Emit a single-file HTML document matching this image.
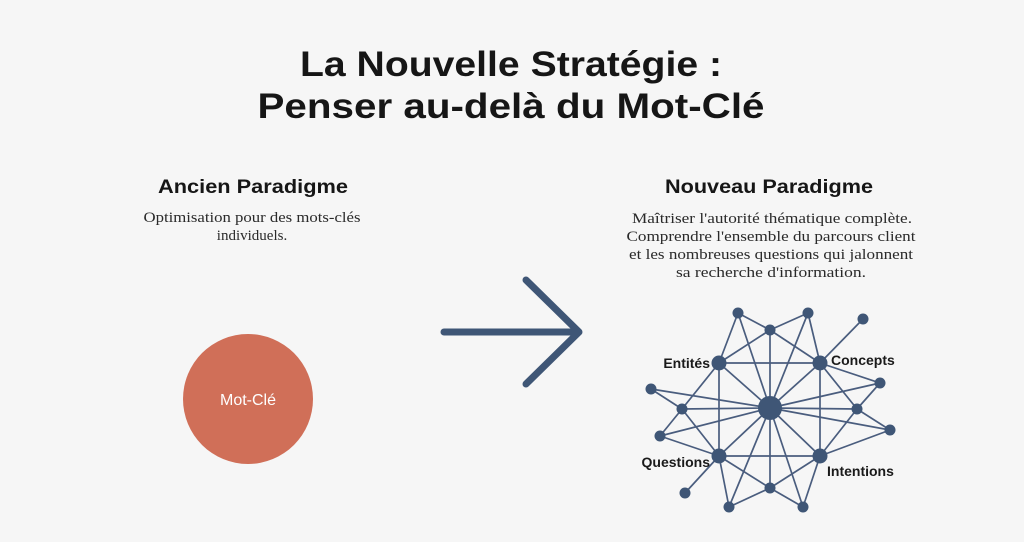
<!DOCTYPE html>
<html><head><meta charset="utf-8"><style>
html,body{margin:0;padding:0;background:#f6f6f6;}
svg{display:block}
</style></head><body>
<svg width="1024" height="542" viewBox="0 0 1024 542" xmlns="http://www.w3.org/2000/svg">
<rect width="1024" height="542" fill="#f6f6f6"/>
<g font-family="Liberation Sans, sans-serif" font-weight="bold" fill="#161616" text-anchor="middle">
<text x="511" y="76" font-size="35" textLength="422" lengthAdjust="spacingAndGlyphs">La Nouvelle Stratégie :</text>
<text x="511" y="118" font-size="35" textLength="507" lengthAdjust="spacingAndGlyphs">Penser au-delà du Mot-Clé</text>
<text x="253" y="193" font-size="19" textLength="190" lengthAdjust="spacingAndGlyphs">Ancien Paradigme</text>
<text x="769" y="193" font-size="19" textLength="208" lengthAdjust="spacingAndGlyphs">Nouveau Paradigme</text>
</g>
<g font-family="Liberation Serif, serif" font-size="15" fill="#2a2a2a" text-anchor="middle">
<text x="252" y="222" textLength="217" lengthAdjust="spacingAndGlyphs">Optimisation pour des mots-clés</text>
<text x="252" y="240">individuels.</text>
<text x="772" y="223" textLength="280" lengthAdjust="spacingAndGlyphs">Maîtriser l'autorité thématique complète.</text>
<text x="771" y="241" textLength="289" lengthAdjust="spacingAndGlyphs">Comprendre l'ensemble du parcours client</text>
<text x="771" y="259" textLength="284" lengthAdjust="spacingAndGlyphs">et les nombreuses questions qui jalonnent</text>
<text x="771" y="277" textLength="190" lengthAdjust="spacingAndGlyphs">sa recherche d'information.</text>
</g>
<circle cx="248" cy="399" r="65" fill="#d06f58"/>
<text x="248" y="405" font-family="Liberation Sans, sans-serif" font-size="16" font-weight="500" fill="#fff" text-anchor="middle">Mot-Clé</text>
<g stroke="#3f5676" stroke-width="7" stroke-linecap="round" stroke-linejoin="round" fill="none">
<line x1="444" y1="332" x2="578" y2="332"/>
<polyline points="526,280 579,332 526,384"/>
</g>
<g stroke="#4a5d7e" stroke-width="1.7">
<line x1="770" y1="408" x2="719" y2="363"/><line x1="770" y1="408" x2="820" y2="363"/>
<line x1="770" y1="408" x2="719" y2="456"/><line x1="770" y1="408" x2="820" y2="456"/>
<line x1="770" y1="408" x2="770" y2="330"/><line x1="770" y1="408" x2="738" y2="313"/>
<line x1="770" y1="408" x2="808" y2="313"/><line x1="770" y1="408" x2="651" y2="389"/>
<line x1="770" y1="408" x2="682" y2="409"/><line x1="770" y1="408" x2="660" y2="436"/>
<line x1="770" y1="408" x2="880" y2="383"/><line x1="770" y1="408" x2="857" y2="409"/>
<line x1="770" y1="408" x2="890" y2="430"/><line x1="770" y1="408" x2="770" y2="488"/>
<line x1="770" y1="408" x2="729" y2="507"/><line x1="770" y1="408" x2="803" y2="507"/>
<line x1="719" y1="363" x2="820" y2="363"/><line x1="719" y1="363" x2="719" y2="456"/>
<line x1="820" y1="363" x2="820" y2="456"/><line x1="719" y1="456" x2="820" y2="456"/>
<line x1="719" y1="363" x2="738" y2="313"/><line x1="719" y1="363" x2="770" y2="330"/>
<line x1="719" y1="363" x2="682" y2="409"/>
<line x1="820" y1="363" x2="770" y2="330"/><line x1="820" y1="363" x2="808" y2="313"/>
<line x1="820" y1="363" x2="863" y2="319"/><line x1="820" y1="363" x2="880" y2="383"/>
<line x1="820" y1="363" x2="857" y2="409"/>
<line x1="719" y1="456" x2="682" y2="409"/><line x1="719" y1="456" x2="660" y2="436"/>
<line x1="719" y1="456" x2="685" y2="493"/><line x1="719" y1="456" x2="770" y2="488"/>
<line x1="719" y1="456" x2="729" y2="507"/>
<line x1="820" y1="456" x2="857" y2="409"/><line x1="820" y1="456" x2="890" y2="430"/>
<line x1="820" y1="456" x2="770" y2="488"/><line x1="820" y1="456" x2="803" y2="507"/>
<line x1="738" y1="313" x2="770" y2="330"/><line x1="770" y1="330" x2="808" y2="313"/>
<line x1="651" y1="389" x2="682" y2="409"/><line x1="682" y1="409" x2="660" y2="436"/>
<line x1="880" y1="383" x2="857" y2="409"/><line x1="857" y1="409" x2="890" y2="430"/>
<line x1="729" y1="507" x2="770" y2="488"/><line x1="770" y1="488" x2="803" y2="507"/>
</g>
<g fill="#3f5676">
<circle cx="770" cy="408" r="12"/>
<circle cx="719" cy="363" r="7.5"/><circle cx="820" cy="363" r="7.5"/>
<circle cx="719" cy="456" r="7.5"/><circle cx="820" cy="456" r="7.5"/>
<circle cx="738" cy="313" r="5.5"/><circle cx="808" cy="313" r="5.5"/>
<circle cx="770" cy="330" r="5.5"/><circle cx="863" cy="319" r="5.5"/>
<circle cx="651" cy="389" r="5.5"/><circle cx="682" cy="409" r="5.5"/>
<circle cx="660" cy="436" r="5.5"/><circle cx="880" cy="383" r="5.5"/>
<circle cx="857" cy="409" r="5.5"/><circle cx="890" cy="430" r="5.5"/>
<circle cx="770" cy="488" r="5.5"/><circle cx="729" cy="507" r="5.5"/>
<circle cx="803" cy="507" r="5.5"/><circle cx="685" cy="493" r="5.5"/>
</g>
<g font-family="Liberation Sans, sans-serif" font-size="14" font-weight="bold" fill="#1a1a1a">
<text x="710" y="368" text-anchor="end">Entités</text>
<text x="831" y="365">Concepts</text>
<text x="710" y="467" text-anchor="end">Questions</text>
<text x="827" y="476">Intentions</text>
</g>
</svg>
</body></html>
